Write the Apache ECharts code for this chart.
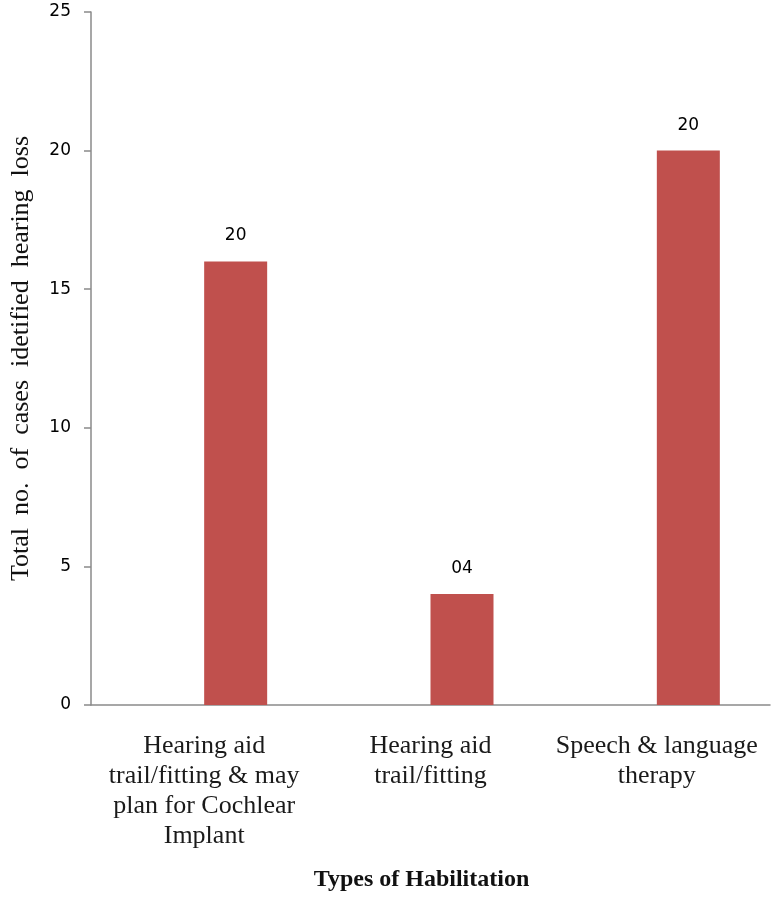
<!DOCTYPE html>
<html>
<head>
<meta charset="utf-8">
<title>Types of Habilitation</title>
<script src="https://cdn.jsdelivr.net/npm/echarts@6/dist/echarts.min.js"></script>
<style>
  html, body { margin: 0; padding: 0; background: #fff; }
  #main { width: 774px; height: 904px; }
</style>
</head>
<body>
<div id="main"></div>
<script>
// data
var categories = [
  'Hearing aid\ntrail/fitting & may\nplan for Cochlear\nImplant',
  'Hearing aid\ntrail/fitting',
  'Speech & language\ntherapy'
];
var cases = [16, 4, 20];
var caseLabels = ['20', '04', '20'];   // labels as printed above the bars
var emptySeries = [null, null, null];  // blank first series (pushes bars right)
var yTicks = [0, 5, 10, 15, 20, 25];

var chart = echarts.init(document.getElementById('main'));

var option = {
  animation: false,
  grid: {
    left: 87,
    right: 4,
    top: 12,
    bottom: 199
  },
  xAxis: {
    type: 'category',
    data: categories,
    name: 'Types of Habilitation',
    nameLocation: 'middle',
    nameGap: 163,
    nameTextStyle: {
      fontFamily: 'Liberation Serif',
      fontWeight: 'bold',
      fontSize: 24,
      color: '#111',
      padding: [0, 18, 0, 0]
    },
    axisLine: { lineStyle: { color: '#8a8a8a', width: 1.5 } },
    axisTick: { show: false },
    axisLabel: {
      interval: 0,
      margin: 26,
      fontFamily: 'Liberation Serif',
      fontSize: 26,
      lineHeight: 30,
      color: '#1a1a1a'
    }
  },
  yAxis: {
    type: 'value',
    min: yTicks[0],
    max: yTicks[yTicks.length - 1],
    interval: 5,
    name: 'Total  no.  of  cases  idetified  hearing  loss',
    nameLocation: 'middle',
    nameGap: 57,
    nameTextStyle: {
      fontFamily: 'Liberation Serif',
      fontSize: 26,
      color: '#111'
    },
    splitLine: { show: false },
    axisLine: { show: true, lineStyle: { color: '#8a8a8a', width: 1.5 } },
    axisTick: { show: true, length: 7, lineStyle: { color: '#8a8a8a', width: 1.5 } },
    axisLabel: {
      margin: 20,
      fontFamily: 'DejaVu Sans',
      fontSize: 17,
      color: '#000'
    }
  },
  series: [
    {
      type: 'bar',
      data: emptySeries,
      barWidth: 63,
      barGap: '0%'
    },
    {
      type: 'bar',
      data: cases,
      barWidth: 63,
      barGap: '0%',
      itemStyle: { color: '#c0504d' },
      label: {
        show: true,
        position: 'top',
        distance: 17,
        fontFamily: 'DejaVu Sans',
        fontSize: 17,
        color: '#000',
        formatter: function (p) { return caseLabels[p.dataIndex]; }
      }
    }
  ]
};

chart.setOption(option);
</script>
</body>
</html>
